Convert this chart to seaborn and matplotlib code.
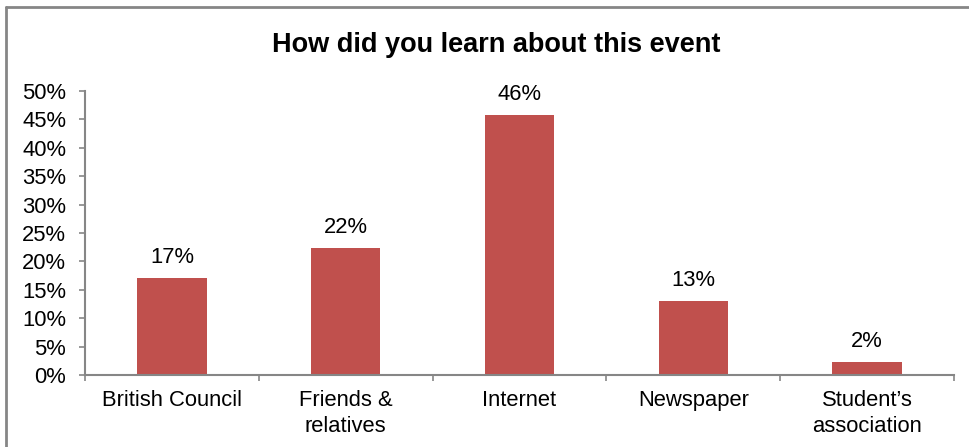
import matplotlib
matplotlib.use("Agg")
import matplotlib.pyplot as plt
from matplotlib.lines import Line2D
from matplotlib.ticker import PercentFormatter, FixedLocator
import seaborn as sns
import pandas as pd

# Survey answers: share of respondents per source
sources = ["British Council", "Friends &\nrelatives", "Internet", "Newspaper", "Student\u2019s\nassociation"]
shares = [0.171, 0.224, 0.458, 0.130, 0.023]
y_ticks = [0.0, 0.05, 0.10, 0.15, 0.20, 0.25, 0.30, 0.35, 0.40, 0.45, 0.50]

title = "How did you learn about this event"
bar_color = "#C0504D"
axis_gray = "#868686"

sns.set_theme(style="white")
plt.rcParams["font.family"] = ["Liberation Sans", "DejaVu Sans"]

df = pd.DataFrame({"source": sources, "share": shares})

W, H = 970, 447
fig = plt.figure(figsize=(W / 100, H / 100), dpi=100)
ax = fig.add_axes([85 / W, 1 - 375 / H, (954 - 85) / W, (375 - 91) / H])

sns.barplot(data=df, x="source", y="share", color=bar_color, width=0.4,
            saturation=1, ax=ax, edgecolor="none")

ax.set_ylim(0, 0.5)
ax.set_xlim(-0.5, len(sources) - 0.5)
ax.yaxis.set_major_locator(FixedLocator(y_ticks))
ax.yaxis.set_major_formatter(PercentFormatter(1.0, decimals=0))
ax.set_xlabel("")
ax.set_ylabel("")

for s in ["top", "right"]:
    ax.spines[s].set_visible(False)
for s in ["left", "bottom"]:
    ax.spines[s].set_color(axis_gray)
    ax.spines[s].set_linewidth(1.5)

ax.tick_params(axis="y", which="major", direction="out", length=4.5, width=1.2,
               color=axis_gray, labelsize=15.8, labelcolor="black", pad=9, left=True)
ax.tick_params(axis="x", which="major", length=0, labelsize=15.8, labelcolor="black", pad=11)
ax.set_xticks([i - 0.5 for i in range(len(sources) + 1)], minor=True)
ax.tick_params(axis="x", which="minor", direction="out", length=4, width=1.2,
               color=axis_gray, bottom=True)
for lbl in ax.get_xticklabels():
    lbl.set_linespacing(1.3)
    lbl.set_verticalalignment("top")

for i, v in enumerate(shares):
    ax.annotate(f"{v * 100:.0f}%", (i, v), xytext=(0, 10.8), textcoords="offset points",
                ha="center", va="baseline", fontsize=15.8, color="black")

# Title centred over the whole chart area rather than the plot box
fig.text(496 / W, 1 - 52 / H, title, fontsize=19.5, fontweight="bold",
         ha="center", va="baseline", color="black")

# Chart-area border (top and left edges inside the canvas)
fig.add_artist(Line2D([6.5 / W, 6.5 / W], [0, 1 - 6.5 / H], transform=fig.transFigure,
                      color=axis_gray, linewidth=2))
fig.add_artist(Line2D([6.5 / W, 1], [1 - 6.5 / H, 1 - 6.5 / H], transform=fig.transFigure,
                      color=axis_gray, linewidth=2))

fig.savefig("out.png", dpi=100, facecolor="white")
